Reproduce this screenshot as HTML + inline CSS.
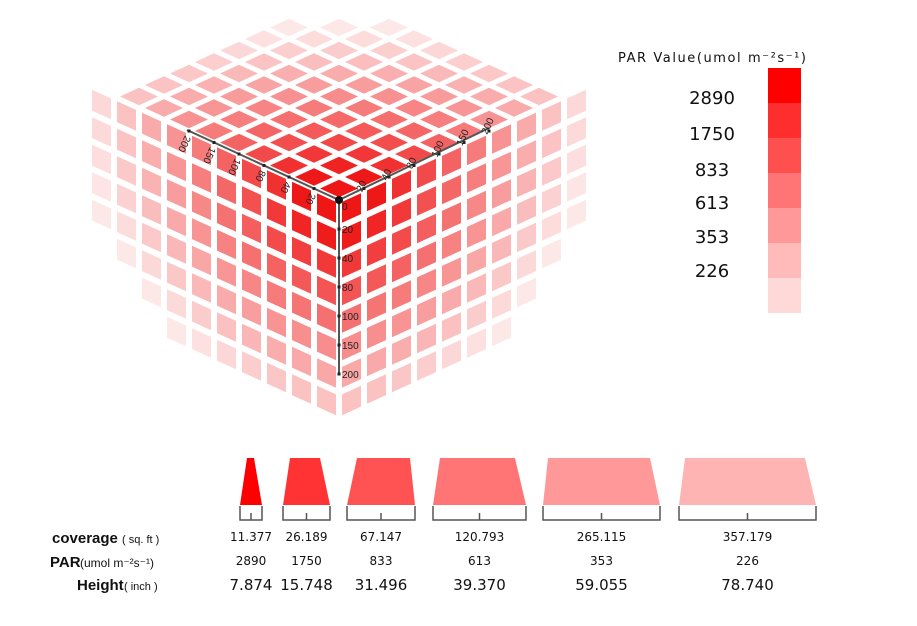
<!DOCTYPE html>
<html><head><meta charset="utf-8"><style>
body{margin:0;background:#fff;width:917px;height:626px;overflow:hidden;font-family:"Liberation Sans","DejaVu Sans",sans-serif}
</style></head><body>
<svg id="s" width="917" height="626" xmlns="http://www.w3.org/2000/svg" style="position:absolute;left:0;top:0">
<g id="cube"></g>
<g stroke="#555" stroke-width="2" fill="none">
<polyline points="187,130 339,200 489,128"/><line x1="339" y1="200" x2="339" y2="374"/>
</g>
<g id="ticks" fill="#222" font-size="10"></g>
<circle cx="339" cy="200" r="4" fill="#111"/>
<text x="618" y="62" font-size="13" fill="#111" font-family="DejaVu Sans, sans-serif" textLength="188">PAR Value(umol m⁻²s⁻¹)</text>
<g font-size="18" fill="#111" text-anchor="middle" font-family="DejaVu Sans, sans-serif">
<text x="712" y="104">2890</text><text x="712" y="140">1750</text><text x="712" y="176">833</text>
<text x="712" y="209">613</text><text x="712" y="243">353</text><text x="712" y="277">226</text>
</g>
<rect x="768" y="68" width="33" height="35" fill="#ff0000"/>
<rect x="768" y="103" width="33" height="35" fill="#ff2e2e"/>
<rect x="768" y="138" width="33" height="35" fill="#ff5050"/>
<rect x="768" y="173" width="33" height="35" fill="#ff7474"/>
<rect x="768" y="208" width="33" height="35" fill="#ff9898"/>
<rect x="768" y="243" width="33" height="35" fill="#ffbaba"/>
<rect x="768" y="278" width="33" height="35" fill="#ffd8d8"/>
<g id="bot"></g>
<g font-size="12" fill="#111" text-anchor="middle" id="vals" font-family="DejaVu Sans, sans-serif"></g>
<text x="52" y="543" font-size="15" font-weight="bold" fill="#111">coverage</text><text x="122" y="543" font-size="11" fill="#111">( sq. ft )</text>
<text x="50" y="567" font-size="15" font-weight="bold" fill="#111">PAR</text><text x="80" y="567" font-size="12" fill="#111">(umol m⁻²s⁻¹)</text>
<text x="77" y="590" font-size="15" font-weight="bold" fill="#111">Height</text><text x="124" y="590" font-size="11" fill="#111">( inch )</text>
</svg>
<script>
var NS="http://www.w3.org/2000/svg",g=document.getElementById('cube');
function poly(pts,op,parent,fill){var p=document.createElementNS(NS,'polygon');p.setAttribute('points',pts.map(function(a){return a[0].toFixed(1)+','+a[1].toFixed(1)}).join(' '));p.setAttribute('fill',fill||'#ee0a0a');if(op!=null)p.setAttribute('fill-opacity',op);(parent||g).appendChild(p);}
var C=[339,200],L=[-25,-11.5],R=[25,-11.5],D=[0,27.5];
function face(a,b,ni,nj,sc,off){for(var i=0;i<ni;i++)for(var j=0;j<nj;j++){var d=Math.sqrt(i*i+j*j*sc)/(off);var op=1-d;if(op<0.08)continue;op=Math.max(0.1,Math.min(1,Math.pow(op,1.1)*1.1));
var ins=0.12;var o=function(u,v){return[C[0]+a[0]*u+b[0]*v,C[1]+a[1]*u+b[1]*v]};
poly([o(i+ins,j+ins),o(i+1-ins,j+ins),o(i+1-ins,j+1-ins),o(i+ins,j+1-ins)],op*0.95);}}
face(L,D,10,8,1.3,11);
face(R,D,10,8,1.3,11);
face(L,R,9,9,1,11);
var t=document.getElementById('ticks');
function txt(x,y,s,rot){var e=document.createElementNS(NS,'text');e.setAttribute('x',x);e.setAttribute('y',y);e.textContent=s;if(rot)e.setAttribute('transform','rotate('+rot+' '+x+' '+y+')');t.appendChild(e);}
var lv=['20','40','80','100','150','200'];
for(var k=1;k<=6;k++){var x=339-25*k,y=200-11.5*k;poly([[x-1.5,y-1.5],[x+1.5,y-1.5],[x+1.5,y+1.5],[x-1.5,y+1.5]],1,t,'#222');txt(x-4,y+4,lv[k-1],115);
var x2=339+25*k;poly([[x2-1.5,y-1.5],[x2+1.5,y-1.5],[x2+1.5,y+1.5],[x2-1.5,y+1.5]],1,t,'#222');txt(x2-2,y+4,lv[k-1],-65);
var y3=200+29*k;poly([[337.5,y3-1.5],[340.5,y3-1.5],[340.5,y3+1.5],[337.5,y3+1.5]],1,t,'#222');txt(342,y3+4,lv[k-1]);}
txt(342,210,'0');
var b=document.getElementById('bot');
var sh=[[247,254,240,262,'#ff0000'],[290,320,283,330,'#ff3333'],[357,410,347,415,'#ff5252'],[440,515,433,526,'#ff7575'],[548,650,543,660,'#ff9999'],[685,805,679,816,'#ffb4b4']];
var cov=['11.377','26.189','67.147','120.793','265.115','357.179'],par=['2890','1750','833','613','353','226'],h=['7.874','15.748','31.496','39.370','59.055','78.740'];
var vg=document.getElementById('vals');
sh.forEach(function(s,i){poly([[s[0],458],[s[1],458],[s[3],505],[s[2],505]],1,b,s[4]);
var r=document.createElementNS(NS,'path');var m=(s[2]+s[3])/2;r.setAttribute('d','M'+s[2]+' 506V520H'+s[3]+'V506M'+m+' 513V520');r.setAttribute('stroke','#555');r.setAttribute('stroke-width','1.5');r.setAttribute('fill','none');b.appendChild(r);
[[cov[i],541,12],[par[i],565,12],[h[i],590,15]].forEach(function(q){var e=document.createElementNS(NS,'text');e.setAttribute('x',m);e.setAttribute('y',q[1]);e.setAttribute('font-size',q[2]);e.textContent=q[0];vg.appendChild(e);});});
</script>
</body></html>
